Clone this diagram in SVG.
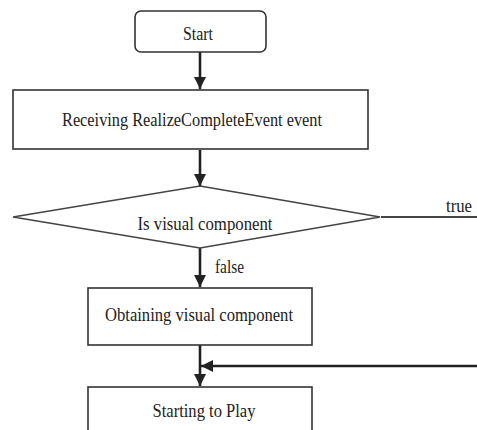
<svg xmlns="http://www.w3.org/2000/svg" width="477" height="430" viewBox="0 0 477 430">
<style>
.box{fill:#fff;stroke:#333;stroke-width:1.6}
.dia{fill:#fff;stroke:#444;stroke-width:1.6}
.t{font-family:"Liberation Serif","DejaVu Serif",serif;font-size:19px;fill:#222;text-anchor:middle}
.lbl{font-family:"Liberation Serif","DejaVu Serif",serif;font-size:18px;fill:#222}
.c{stroke:#222;stroke-width:2.6;fill:none}
.ln{stroke:#444;stroke-width:1.8;fill:none}
</style>
<defs>
<marker id="ah" viewBox="0 0 10 10" refX="10" refY="5" markerWidth="4.8" markerHeight="4.8" markerUnits="strokeWidth" orient="auto">
<path d="M0,0 L10,5 L0,10 z" fill="#222"/>
</marker>
</defs>
<g id="connectors">
<line class="c" x1="200" y1="52" x2="200" y2="89" marker-end="url(#ah)"/>
<line class="c" x1="200" y1="150" x2="200" y2="186" marker-end="url(#ah)"/>
<line class="c" x1="200" y1="248" x2="200" y2="287" marker-end="url(#ah)"/>
<line class="c" x1="200" y1="345" x2="200" y2="386" marker-end="url(#ah)"/>
<line class="c" x1="477" y1="366" x2="201" y2="366" marker-end="url(#ah)"/>
<line class="ln" x1="381" y1="217" x2="477" y2="217"/>
<text class="lbl" x="446" y="212" textLength="26" lengthAdjust="spacingAndGlyphs">true</text>
<text class="lbl" x="215" y="273" textLength="29" lengthAdjust="spacingAndGlyphs">false</text>
</g>
<g id="start">
<rect class="box" x="135" y="11" width="131" height="41" rx="6"/>
<text class="t" x="198" y="40" textLength="30" lengthAdjust="spacingAndGlyphs">Start</text>
</g>
<g id="receiving">
<rect class="box" x="13" y="90" width="355" height="59"/>
<text class="t" x="192" y="126" textLength="260" lengthAdjust="spacingAndGlyphs">Receiving RealizeCompleteEvent event</text>
</g>
<g id="decision">
<polygon class="dia" points="200,186 380,217 200,248 13,217"/>
<text class="t" x="205" y="230" textLength="135" lengthAdjust="spacingAndGlyphs">Is visual component</text>
</g>
<g id="obtaining">
<rect class="box" x="88" y="288" width="224" height="57"/>
<text class="t" x="199" y="321" textLength="188" lengthAdjust="spacingAndGlyphs">Obtaining visual component</text>
</g>
<g id="starting">
<rect class="box" x="88" y="387" width="224" height="60"/>
<text class="t" x="204" y="417" textLength="103" lengthAdjust="spacingAndGlyphs">Starting to Play</text>
</g>
</svg>
